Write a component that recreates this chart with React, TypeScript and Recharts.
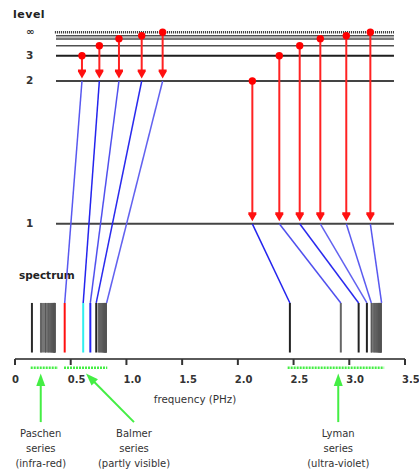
import React from 'react';
import { ComposedChart, XAxis, YAxis, ReferenceLine, ReferenceArea, ReferenceDot, Customized } from 'recharts';

// energy levels (eV)
const levelNames = ['1', '2', '3', '4', '5', '6', '∞'];
const levelEnergy = [-13.6, -3.46, -1.66, -0.95, -0.45, -0.24, 0];
const labelledLevels = ['1', '2', '3', '∞'];

// transitions (arrow positions in PHz along the x scale)
const balmerArrowX = [0.601, 0.757, 0.933, 1.137, 1.325];
const balmerFrom = ['3', '4', '5', '6', '∞'];
const balmerTargets = [0.446, 0.612, 0.676, 0.729, 0.822];
const lymanArrowX = [2.13, 2.372, 2.555, 2.74, 2.973, 3.189];
const lymanFrom = ['2', '3', '4', '5', '6', '∞'];
const lymanTargets = [2.467, 2.924, 3.084, 3.158, 3.198, 3.29];

// spectral lines (PHz)
const paschenLines = [0.152, 0.234, 0.274, 0.298, 0.314, 0.325, 0.333, 0.339, 0.344, 0.347, 0.35, 0.353, 0.355, 0.357, 0.359, 0.361];
const balmerLines = [0.446, 0.612, 0.676, 0.729, 0.755, 0.771, 0.782, 0.79, 0.796, 0.8, 0.804, 0.807, 0.81, 0.812, 0.815, 0.818, 0.821];
const lymanLines = [2.467, 2.924, 3.084, 3.158, 3.198, 3.223, 3.239, 3.249, 3.257, 3.263, 3.268, 3.272, 3.276, 3.279, 3.282, 3.285, 3.288];

// series bands & spans (PHz)
const bandStart = [0.224, 0.742, 3.192];
const bandEnd = [0.362, 0.823, 3.291];
const spanStart = [0.141, 0.44, 2.447];
const spanEnd = [0.386, 0.828, 3.313];
const seriesNames = ['Paschen', 'Balmer', 'Lyman'];
const seriesNotes = ['(infra-red)', '(partly visible)', '(ultra-violet)'];
const seriesArrowTip = [0.231, 0.637, 2.901];
const seriesArrowTail = [0.231, 1.068, 2.901];

const xTicks = [0, 0.5, 1, 1.5, 2, 2.5, 3, 3.5];

// layout constants (in chart units)
const LINE_X0 = 0.368;
const LINE_X1 = 3.401;
const SPEC_TOP = -19.22;
const SPEC_BOTTOM = -22.74;
const SPAN_Y = -23.82;
const G_TIP_Y = -24.23;
const G_TAIL_Y = -27.68;
const LABEL_Y = -28.71;

const eOf = (n: string) => levelEnergy[levelNames.indexOf(n)];

const levelStyle: Record<string, any> = {
  '1': { stroke: '#444', strokeWidth: 2 },
  '2': { stroke: '#444', strokeWidth: 2 },
  '3': { stroke: '#1e1e1e', strokeWidth: 2 },
  '4': { stroke: '#505050', strokeWidth: 1.5 },
  '5': { stroke: '#7a7a7a', strokeWidth: 2.5 },
  '6': { stroke: '#505050', strokeWidth: 1.5 },
  '∞': { stroke: '#2a2a2a', strokeWidth: 2.5, strokeDasharray: '1 1' },
};

const paschenColors = ['#2a2a2a'];
const balmerColors = ['#ff1010', '#30eeee', '#2424f4', '#222'];
const lymanColors = ['#222', '#666', '#222', '#222'];
const blueShades = ['#5858f0', '#2424ee', '#5050ee', '#2a2aee', '#6262f0', '#5c5cf0'];

const RedArrow = (props: any) => {
  const { x1, y1, x2, y2 } = props;
  const tipY = y2 - 2.5;
  const headH = 9;
  const headW = 4;
  return (
    <g>
      <line x1={x1} y1={y1} x2={x2} y2={tipY - headH + 1} stroke="#f22" strokeWidth={2} />
      <polygon
        points={`${x2 - headW},${tipY - headH} ${x2 + headW},${tipY - headH} ${x2 + headW},${tipY - headH + 2} ${x2},${tipY} ${x2 - headW},${tipY - headH + 2}`}
        fill="#f11"
      />
      <circle cx={x1} cy={y1} r={3.7} fill="#f00" />
    </g>
  );
};

const GreenArrow = (props: any) => {
  const { x1, y1, x2, y2 } = props;
  const dx = x2 - x1;
  const dy = y2 - y1;
  const len = Math.sqrt(dx * dx + dy * dy) || 1;
  const ux = dx / len;
  const uy = dy / len;
  const hl = 12.5;
  const hw = 4.5;
  const bx = x2 - ux * hl;
  const by = y2 - uy * hl;
  const nx = -uy;
  const ny = ux;
  return (
    <g>
      <line x1={x1} y1={y1} x2={bx + ux * 1} y2={by + uy * 1} stroke="#44ee44" strokeWidth={2} />
      <polygon points={`${x2},${y2} ${bx + nx * hw},${by + ny * hw} ${bx - nx * hw},${by - ny * hw}`} fill="#44ee44" />
    </g>
  );
};

const Tick = (props: any) => {
  const { x, y, payload } = props;
  const v = payload.value;
  return (
    <text x={x - 3} y={y} dy="0.71em" textAnchor="start" fontFamily="DejaVu Sans" fontWeight="bold" fontSize={10} fill="#333">
      {v === 0 ? '0' : v.toFixed(1)}
    </text>
  );
};

const Headers = () => (
  <g fontFamily="DejaVu Sans">
    <text x={13} y={18.3} fontWeight="bold" fontSize={11} letterSpacing={0.5} fill="#222">level</text>
    <text x={19} y={278.5} fontWeight="bold" fontSize={10.5} fill="#222">spectrum</text>
    <text x={195} y={402.5} textAnchor="middle" fontSize={10.3} fill="#333">frequency (PHz)</text>
  </g>
);

const spectrumSeries = [
  { lines: paschenLines, colors: paschenColors },
  { lines: balmerLines, colors: balmerColors },
  { lines: lymanLines, colors: lymanColors },
];

export default function App() {
  return (
    <div style={{ position: 'absolute', left: 0, top: 0 }}>
      <ComposedChart width={419} height={470} data={[]} margin={{ top: 32.3, right: 14, bottom: 81, left: 15 }}>
        <XAxis
          type="number"
          dataKey="x"
          domain={[0, 3.5]}
          allowDataOverflow
          ticks={xTicks}
          interval={0}
          height={30}
          stroke="#5a5a5a"
          axisLine={{ stroke: '#5a5a5a', strokeWidth: 2 }}
          tickLine={{ stroke: '#333', strokeWidth: 2 }}
          tickSize={6}
          tickMargin={11}
          tick={<Tick />}
        />
        <YAxis type="number" domain={[-23.2, 0]} allowDataOverflow hide />

        {/* spectrum bands */}
        {bandStart.map((b, i) => (
          <ReferenceArea key={'band' + i} x1={b} x2={bandEnd[i]} y1={SPEC_BOTTOM} y2={SPEC_TOP} ifOverflow="visible" fill="#767676" fillOpacity={1} stroke="none" />
        ))}

        {/* spectral lines */}
        {spectrumSeries.map((s, si) =>
          s.lines.map((f, li) => {
            const main = li < s.colors.length;
            return (
              <ReferenceLine
                key={`sp${si}-${li}`}
                segment={[{ x: f, y: SPEC_BOTTOM }, { x: f, y: SPEC_TOP }]}
                ifOverflow="visible"
                stroke={main ? s.colors[li] : '#555'}
                strokeWidth={main ? 2 : 1}
              />
            );
          })
        )}

        {/* level lines */}
        {levelNames.map((n, i) => (
          <ReferenceLine
            key={'lv' + n}
            segment={[{ x: n === '∞' ? LINE_X0 - 0.01 : LINE_X0, y: levelEnergy[i] }, { x: LINE_X1, y: levelEnergy[i] }]}
            ifOverflow="visible"
            {...levelStyle[n]}
          />
        ))}

        {/* level labels */}
        {labelledLevels.map((n) => (
          <ReferenceDot
            key={'lbl' + n}
            x={0.0987}
            y={eOf(n)}
            ifOverflow="visible"
            shape={(p: any) => (
              <text x={p.cx} y={p.cy - 1} dominantBaseline="central" fontFamily="DejaVu Sans" fontWeight="bold" fontSize={n === '∞' ? 10 : 10.5} fill="#333">
                {n}
              </text>
            )}
          />
        ))}

        {/* connectors */}
        {balmerArrowX.map((x, i) => (
          <ReferenceLine
            key={'bc' + i}
            segment={[{ x, y: eOf('2') }, { x: balmerTargets[i], y: SPEC_TOP }]}
            ifOverflow="visible"
            stroke={blueShades[i]}
            strokeWidth={1.5}
          />
        ))}
        {lymanArrowX.map((x, i) => (
          <ReferenceLine
            key={'lc' + i}
            segment={[{ x, y: eOf('1') }, { x: lymanTargets[i], y: SPEC_TOP }]}
            ifOverflow="visible"
            stroke={blueShades[(i + 1) % blueShades.length]}
            strokeWidth={1.5}
          />
        ))}

        {/* red transition arrows */}
        {balmerArrowX.map((x, i) => (
          <ReferenceLine
            key={'ba' + i}
            segment={[{ x, y: eOf(balmerFrom[i]) }, { x, y: eOf('2') }]}
            ifOverflow="visible"
            shape={RedArrow}
          />
        ))}
        {lymanArrowX.map((x, i) => (
          <ReferenceLine
            key={'la' + i}
            segment={[{ x, y: eOf(lymanFrom[i]) }, { x, y: eOf('1') }]}
            ifOverflow="visible"
            shape={RedArrow}
          />
        ))}

        {/* green series spans */}
        {spanStart.map((s, i) => (
          <ReferenceLine
            key={'span' + i}
            segment={[{ x: s, y: SPAN_Y }, { x: spanEnd[i], y: SPAN_Y }]}
            ifOverflow="visible"
            stroke="#44ee44"
            strokeWidth={2.5}
            strokeDasharray="2 1"
          />
        ))}
        {seriesArrowTip.map((t, i) => (
          <ReferenceLine
            key={'ga' + i}
            segment={[{ x: seriesArrowTail[i], y: G_TAIL_Y }, { x: t, y: G_TIP_Y }]}
            ifOverflow="visible"
            shape={GreenArrow}
          />
        ))}
        {seriesNames.map((name, i) => (
          <ReferenceDot
            key={'sn' + i}
            x={seriesArrowTail[i]}
            y={LABEL_Y}
            ifOverflow="visible"
            shape={(p: any) => (
              <g fontFamily="DejaVu Sans" fontSize={10} fill="#333" textAnchor="middle">
                <text x={p.cx} y={p.cy}>{name}</text>
                <text x={p.cx} y={p.cy + 15}>series</text>
                <text x={p.cx} y={p.cy + 30}>{seriesNotes[i]}</text>
              </g>
            )}
          />
        ))}

        <Customized component={<Headers />} />
      </ComposedChart>
    </div>
  );
}
